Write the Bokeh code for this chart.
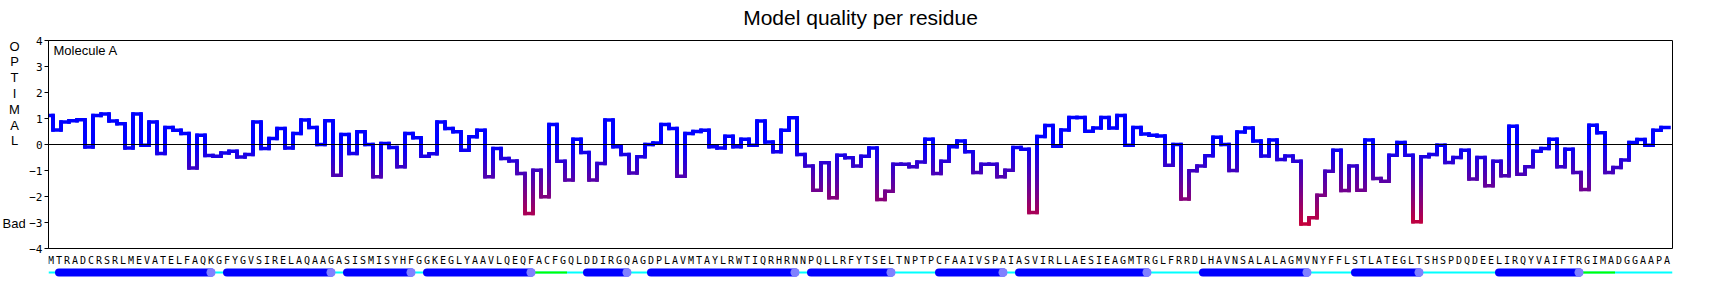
import math
from bokeh.plotting import figure
from bokeh.models import Range1d, Span, FixedTicker, ColumnDataSource
from bokeh.layouts import column, row
from bokeh.embed import file_html
from bokeh.resources import INLINE
from bokeh.core.properties import value

title_text = "Model quality per residue"
molecule = "Molecule A"
sequence = ("MTRADCRSRLMEVATELFAQKGFYGVSIRELAQAAGASISMISYHFGGKEGLYAAVLQEQFACFGQLDDI"
            "RGQAGDPLAVMTAYLRWTIQRHRNNPQLLRFYTSELTNPTPCFAAIVSPAIASVIRLLAESIEAGMTRGL"
            "FRRDLHAVNSALALAGMVNYFFLSTLATEGLTSHSPDQDEELIRQYVAIFTRGIMADGGAAPA")

quality = [
    1.12, 0.56, 0.87, 0.91, 0.95, -0.10, 1.12, 1.17, 0.90, 0.80,
    -0.13, 1.17, -0.03, 0.87, -0.35, 0.65, 0.55, 0.42, -0.90, 0.36,
    -0.42, -0.45, -0.33, -0.26, -0.48, -0.38, 0.87, -0.15, 0.23, 0.62,
    -0.13, 0.42, 0.94, 0.65, 0.00, 0.91, -1.18, 0.38, -0.35, 0.49,
    0.00, -1.24, 0.04, -0.12, -0.86, 0.42, 0.26, -0.45, -0.36, 0.87,
    0.62, 0.49, -0.22, 0.30, 0.55, -1.24, -0.15, -0.54, -0.63, -1.12,
    -2.65, -0.99, -2.01, 0.77, -0.64, -1.37, 0.20, -0.31, -1.37, -0.73,
    0.94, -0.09, -0.38, -1.10, -0.47, 0.00, 0.06, 0.77, 0.62, -1.22,
    0.42, 0.50, 0.55, -0.09, -0.13, 0.32, -0.09, 0.20, -0.03, 0.90,
    0.10, -0.28, 0.55, 1.03, -0.38, -0.83, -1.76, -0.70, -2.05, -0.41,
    -0.51, -0.83, -0.45, -0.13, -2.12, -1.80, -0.76, -0.76, -0.86, -0.67,
    0.20, -1.12, -0.64, -0.09, 0.13, -0.28, -1.08, -0.76, -0.76, -1.24,
    -0.99, -0.12, -0.18, -2.62, 0.31, 0.73, -0.07, 0.56, 1.04, 1.04,
    0.51, 0.63, 1.04, 0.63, 1.12, -0.03, 0.65, 0.40, 0.36, 0.33,
    -0.80, 0.00, -2.10, -1.01, -0.83, -0.43, 0.28, 0.00, -1.00, 0.48,
    0.63, 0.13, -0.44, 0.17, -0.58, -0.44, -0.64, -3.06, -2.82, -1.95,
    -1.03, -0.22, -1.77, -0.83, -1.76, 0.17, -1.31, -1.41, -0.41, 0.08,
    -0.41, -2.97, -0.47, -0.38, -0.03, -0.69, -0.50, -0.22, -1.33, -0.50,
    -1.59, -0.64, -1.20, 0.70, -1.14, -0.86, -0.26, -0.15, 0.20, -0.86,
    -0.18, -1.08, -1.73, 0.74, 0.45, -1.08, -0.88, -0.60, 0.08, 0.19,
    -0.03, 0.55, 0.65,
]

helix_start = [1, 22, 37, 47, 67, 75, 95, 111, 121, 144, 163, 181]
helix_end = [20, 35, 45, 60, 72, 93, 105, 119, 137, 157, 171, 191]
green_start = [61, 192]
green_end = [64, 195]

y_ticks = [-4, -3, -2, -1, 0, 1, 2, 3, 4]
y_tick_labels = ["\u22124", "\u22123", "\u22122", "\u22121", "0", "1", "2", "3", "4"]
side_letters = list("OPTIMAL")
bad_text = "Bad"

n = len(quality)
W = 1720
H_TITLE, H_MAIN, H_BOT = 33, 221, 34
LEFT, RIGHT = 48, 48
BT, BB = 7, 6          # main plot top / bottom border
W_SIDE = 26
PX = 8.0  # pixels per residue
X0 = -0.3125
xr = Range1d(X0, X0 + (W - LEFT - RIGHT) / PX)
yr = Range1d(-4, 4)
B = 1  # thin explicit border of the helper strips
FRAME_TOP = H_TITLE + BT
FRAME_BOT = H_TITLE + H_MAIN - BB


def qcolor(v):
    f = min(max(-v / 4.0, 0.0), 1.0)
    r = int(round(255 * f))
    b = int(round(255 * (1 - f)))
    return "#%02x%02x%02x" % (r, 0, b)


def bare(fig):
    fig.grid.visible = False
    fig.outline_line_color = None
    fig.background_fill_color = "white"
    fig.border_fill_color = "white"
    return fig


# ---- title strip: data x = page x, data y = -(page y) ----
t = bare(figure(width=W, height=H_TITLE, x_range=Range1d(LEFT, W - RIGHT),
                y_range=Range1d(-(H_TITLE - B), -B),
                title=None, output_backend="svg", toolbar_location=None,
                x_axis_location=None, y_axis_location=None, min_border_left=LEFT,
                min_border_right=RIGHT, min_border_top=B, min_border_bottom=B))
t.text(x=[860], y=[-17.3], text=[title_text], text_font=value("Liberation Sans"),
       text_font_size="21px", text_align="center", text_baseline="middle",
       text_color="black")

# ---- side labels: frame is aligned with the main frame by the row ----
s = bare(figure(width=W_SIDE, height=H_MAIN, x_range=Range1d(B, W_SIDE - B),
                y_range=Range1d(-FRAME_BOT, -FRAME_TOP), title=None,
                output_backend="svg", toolbar_location=None, x_axis_location=None,
                y_axis_location=None, min_border_left=B, min_border_right=B,
                min_border_top=BT, min_border_bottom=BB))
s.text(x=[14] * len(side_letters), y=[-(45.6 + 15.8 * k) for k in range(len(side_letters))],
       text=side_letters, text_font=value("Liberation Sans"), text_font_size="13px",
       text_align="center", text_baseline="middle", text_color="black")
s.text(x=[2], y=[-223.0], text=[bad_text],
       text_font=value("Liberation Sans"), text_font_size="13px", text_align="left",
       text_baseline="middle", text_color="black")

# ---- main plot ----
x0s, y0s, x1s, y1s, cols = [], [], [], [], []
for i in range(n - 1):
    a, b = quality[i], quality[i + 1]
    steps = max(1, int(math.ceil(abs(b - a) / 0.05)))
    for k in range(steps):
        ya = a + (b - a) * k / steps
        yb = a + (b - a) * (k + 1) / steps
        x0s.append(i + 0.25); x1s.append(i + 0.25)
        y0s.append(ya); y1s.append(yb)
        cols.append(qcolor((ya + yb) / 2))
for i, v in enumerate(quality):
    x0s.append(i - 0.75); x1s.append(i + 0.25)
    y0s.append(v); y1s.append(v)
    cols.append(qcolor(v))
seg_src = ColumnDataSource(dict(x0=x0s, y0=y0s, x1=x1s, y1=y1s, c=cols))

p = figure(width=W - W_SIDE, height=H_MAIN, x_range=xr, y_range=yr, title=None,
           output_backend="svg", toolbar_location=None, x_axis_location=None,
           min_border_left=LEFT - W_SIDE, min_border_right=RIGHT, min_border_top=BT,
           min_border_bottom=BB)
p.grid.visible = False
p.outline_line_color = "black"
p.outline_line_width = 1
p.background_fill_color = "white"
p.border_fill_color = "white"

ax = p.yaxis[0]
ax.ticker = FixedTicker(ticks=y_ticks)
ax.major_label_overrides = {tk: lb for tk, lb in zip(y_ticks, y_tick_labels)}
ax.major_label_text_font = "DejaVu Sans Mono"
ax.major_label_text_font_size = "11px"
ax.major_label_text_color = "black"
ax.major_label_standoff = 2
ax.axis_line_color = "black"
ax.major_tick_line_color = "black"
ax.major_tick_out = 4
ax.major_tick_in = 0
ax.minor_tick_line_color = None

p.add_layout(Span(location=0, dimension="width", line_color="black", line_width=1))
p.segment(x0="x0", y0="y0", x1="x1", y1="y1", color="c", line_width=3.5,
          line_cap="square", source=seg_src)
p.text(x=[X0 + 5 / PX], y=[4 - (50.3 - 40) / 26.0], text=[molecule],
       text_font=value("Liberation Sans"), text_font_size="13px", text_align="left",
       text_baseline="middle", text_color="black")

# ---- sequence + secondary structure: data y = -(page y) ----
top_q = H_TITLE + H_MAIN
q = bare(figure(width=W, height=H_BOT, x_range=xr,
                y_range=Range1d(-(top_q + H_BOT - B), -(top_q + B)), title=None,
                output_backend="svg", toolbar_location=None, x_axis_location=None,
                y_axis_location=None, min_border_left=LEFT, min_border_right=RIGHT,
                min_border_top=B, min_border_bottom=B))
ys_letters = -259.7
ss_y = -272.0
q.text(x=list(range(n)), y=[ys_letters] * n, text=list(sequence),
       text_font=value("DejaVu Sans Mono"), text_font_size="10px",
       text_align="center", text_baseline="middle", text_color="black")
q.segment(x0=[xr.start], y0=[ss_y], x1=[xr.end], y1=[ss_y], line_color="#00ffff", line_width=2)
q.segment(x0=[st - 0.5 for st in green_start], y0=[ss_y] * len(green_start),
          x1=[en + 0.5 for en in green_end], y1=[ss_y] * len(green_end),
          line_color="#00ff00", line_width=2)
q.segment(x0=helix_start, y0=[ss_y] * len(helix_start), x1=helix_end,
          y1=[ss_y] * len(helix_end), line_color="#0000ff", line_width=8, line_cap="round")
q.scatter(x=helix_end, y=[ss_y] * len(helix_end), size=9, fill_color="#8080ff",
          line_color=None)

layout = column(t, row(s, p, spacing=0), q, spacing=0)
open("out.html", "w").write(file_html(layout, INLINE))
